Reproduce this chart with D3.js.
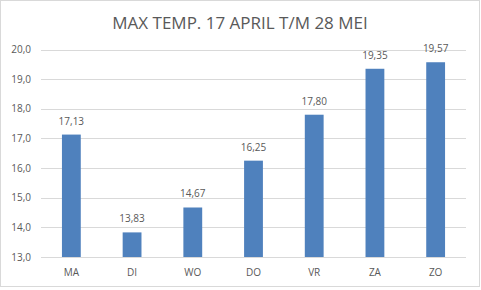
<!DOCTYPE html>
<html>
<head>
<meta charset="utf-8">
<script src="https://cdnjs.cloudflare.com/ajax/libs/d3/7.8.5/d3.min.js"></script>
<style>
  body { margin: 0; background: #fff; }
  text { font-family: "Open Sans", "Liberation Sans", sans-serif; fill: #595959; }
</style>
</head>
<body>
<script>
  var days = ["MA", "DI", "WO", "DO", "VR", "ZA", "ZO"];
  var maxTemp = [17.13, 13.83, 14.67, 16.25, 17.80, 19.35, 19.57];
  var yTicks = [13, 14, 15, 16, 17, 18, 19, 20];

  var W = 481, H = 290;
  var plotL = 41, plotR = 466, plotT = 49.5, plotB = 257;

  var svg = d3.select("body").append("svg")
    .attr("width", W).attr("height", H);

  svg.append("rect")
    .attr("x", 0.5).attr("y", 0.5)
    .attr("width", W - 2).attr("height", H - 4)
    .attr("fill", "#fff").attr("stroke", "#d9d9d9");

  var x = d3.scaleBand().domain(days).range([plotL, plotR]).paddingInner(0.69).paddingOuter(0.345);
  var y = d3.scaleLinear().domain([13, 20]).range([plotB, plotT]);
  var fmt = function(v, n) { return v.toFixed(n).replace(".", ","); };

  // gridlines
  svg.append("g").selectAll("line").data(yTicks).enter().append("line")
    .attr("x1", plotL).attr("x2", plotR)
    .attr("y1", function(d) { return Math.round(y(d)) + 0.5; })
    .attr("y2", function(d) { return Math.round(y(d)) + 0.5; })
    .attr("stroke", "#d9d9d9");

  // y labels
  svg.append("g").selectAll("text").data(yTicks).enter().append("text")
    .attr("x", 31).attr("y", function(d) { return y(d) + 3.5; })
    .attr("text-anchor", "end").attr("font-size", 10)
    .text(function(d) { return fmt(d, 1); });

  // bars
  svg.append("g").selectAll("rect").data(maxTemp).enter().append("rect")
    .attr("x", function(d, i) { return x(days[i]); })
    .attr("width", x.bandwidth())
    .attr("y", function(d) { return y(d); })
    .attr("height", function(d) { return y(13) - y(d); })
    .attr("fill", "#4f81bd");

  // value labels
  svg.append("g").selectAll("text").data(maxTemp).enter().append("text")
    .attr("x", function(d, i) { return x(days[i]) + x.bandwidth() / 2; })
    .attr("y", function(d) { return y(d) - 10; })
    .attr("text-anchor", "middle").attr("font-size", 10)
    .text(function(d) { return fmt(d, 2); });

  // x labels
  svg.append("g").selectAll("text").data(days).enter().append("text")
    .attr("x", function(d) { return x(d) + x.bandwidth() / 2; })
    .attr("y", 276)
    .attr("text-anchor", "middle").attr("font-size", 10)
    .text(function(d) { return d; });

  svg.append("text")
    .attr("x", 240).attr("y", 29)
    .attr("text-anchor", "middle").attr("font-size", 17)
    .text("MAX TEMP. 17 APRIL T/M 28 MEI");
</script>
</body>
</html>
